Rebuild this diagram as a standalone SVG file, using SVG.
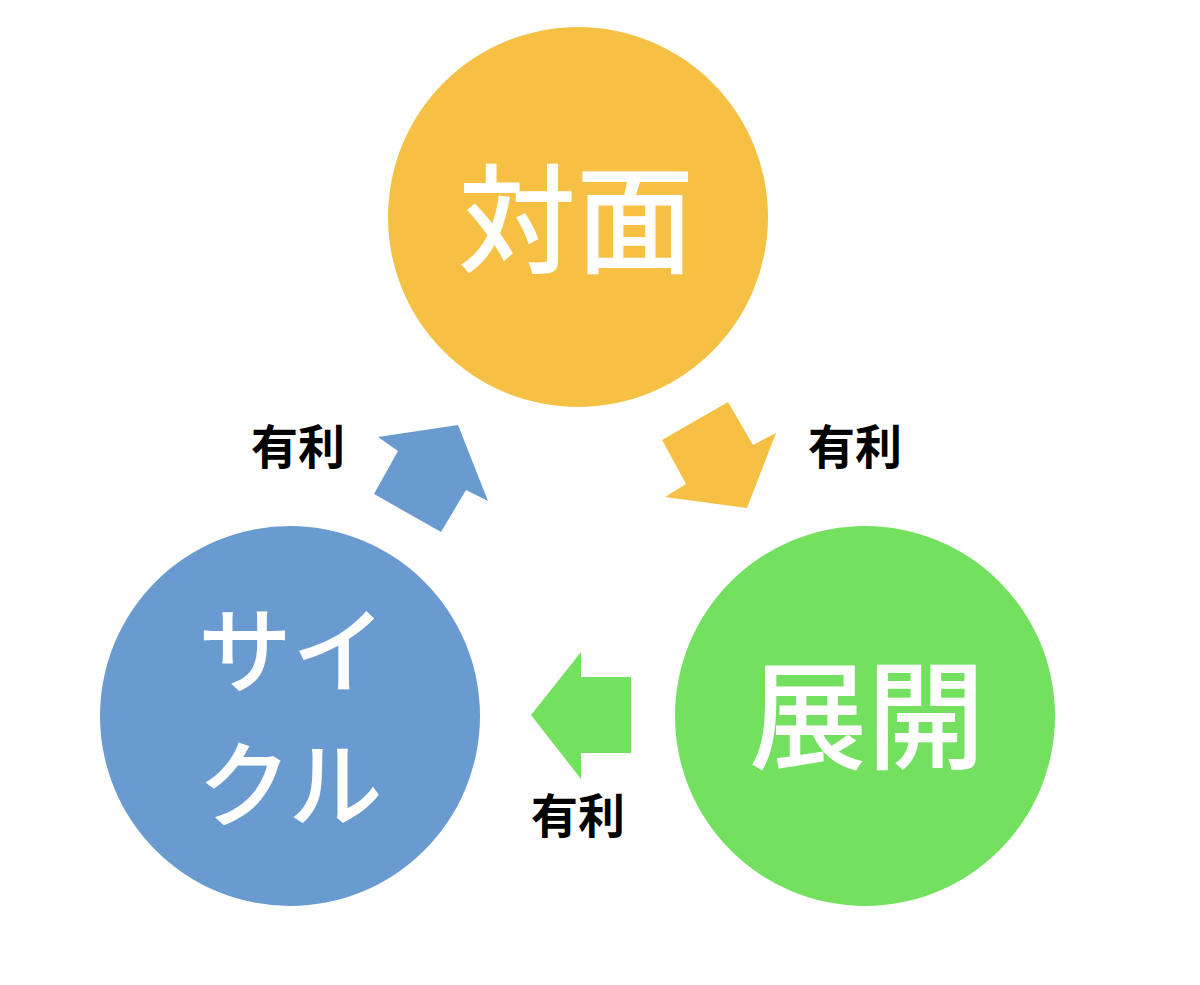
<svg xmlns="http://www.w3.org/2000/svg" width="1200" height="985" viewBox="0 0 1200 985">
<style>
.big{font-family:"Noto Sans CJK JP","Noto Sans CJK SC",sans-serif;font-size:118px;fill:#fff;font-weight:500;text-anchor:middle;dominant-baseline:central}
.kana{font-size:94px}
.lbl{font-family:"Noto Sans CJK JP","Noto Sans CJK SC",sans-serif;font-size:47px;fill:#000;font-weight:700;text-anchor:middle;dominant-baseline:central}
</style>
<rect width="1200" height="985" fill="#fff"/>
<g id="connectors">
<polygon fill="#6A9BD0" points="378,437 458,425 488,501 466,490 441,532 374,494 398,451"/>
<polygon fill="#F5C044" points="728,402 753,445 776,433 747,508 665,497 686,484 662,440"/>
<polygon fill="#73E060" points="581,652 581,677 631,677 631,753 581,753 581,779 531,715"/>
<text class="lbl" x="298" y="443">有利</text>
<text class="lbl" x="855" y="443">有利</text>
<text class="lbl" x="578" y="812">有利</text>
</g>
<g id="node-taimen">
<circle cx="578" cy="217" r="190" fill="#F5C044"/>
<text class="big" x="576" y="212">対面</text>
</g>
<g id="node-tenkai">
<circle cx="865" cy="716" r="190" fill="#73E060"/>
<text class="big" x="867" y="708">展開</text>
</g>
<g id="node-cycle">
<circle cx="290" cy="716" r="190" fill="#6A9BD0"/>
<text class="big kana" x="292" y="645">サイ</text>
<text class="big kana" x="290" y="779">クル</text>
</g>
</svg>
